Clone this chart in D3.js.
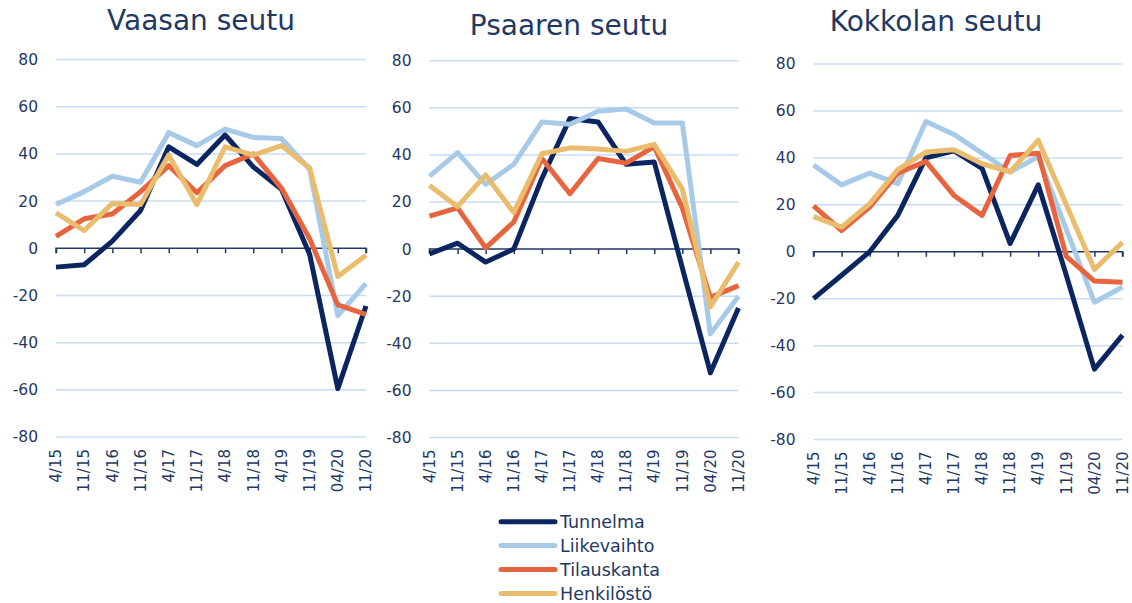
<!DOCTYPE html>
<html>
<head>
<meta charset="utf-8">
<script src="https://cdn.jsdelivr.net/npm/d3@7"></script>
<style>
 body{margin:0;background:#ffffff;}
 text{font-family:'DejaVu Sans',sans-serif;fill:#1F3864;}
</style>
</head>
<body>
<div id="chart"></div>
<script>
// categories on the x axis (half year survey rounds)
const categories = ['4/15','11/15','4/16','11/16','4/17','11/17','4/18','11/18','4/19','11/19','04/20','11/20'];
const seriesNames = ['Tunnelma','Liikevaihto','Tilauskanta','Henkilöstö'];
const regionNames = ['Vaasan seutu','Psaaren seutu','Kokkolan seutu'];
const yTicks = [-80,-60,-40,-20,0,20,40,60,80];

// Vaasan seutu
const vaasaTunnelma    = [-8, -7, 3, 16, 43, 35.5, 48, 34.5, 25, -2.5, -59.5, -24.5];
const vaasaLiikevaihto = [18.5, 24, 30.5, 28, 49, 43.5, 50.5, 47, 46.5, 33.5, -28.5, -15];
const vaasaTilauskanta = [5, 12.5, 14.5, 24, 35, 23.5, 35, 40, 25.5, 4, -24, -28];
const vaasaHenkilosto  = [15, 7.5, 19, 18.5, 39.5, 18.5, 43, 39.5, 43.5, 34, -12, -3];

// Psaaren seutu
const psaariTunnelma    = [-2, 2.5, -5.5, 0, 30, 55.5, 54, 36, 37, -8, -52.5, -25];
const psaariLiikevaihto = [31, 41, 27.5, 36, 54, 53, 58.5, 59.5, 53.5, 53.5, -36, -20];
const psaariTilauskanta = [14, 17.5, 0.5, 11.5, 38.5, 23.5, 38.5, 36.5, 43.5, 17.5, -20.5, -15.5];
const psaariHenkilosto  = [27, 18, 31.5, 15.5, 40.5, 43, 42.5, 41.5, 44.5, 25.5, -24.5, -5.5];

// Kokkolan seutu
const kokkolaTunnelma    = [-20, -10, 0, 15.5, 40, 43, 35.5, 3.5, 28.5, -10, -50, -35.5];
const kokkolaLiikevaihto = [37, 28.5, 33.5, 29, 55.5, 50, 42, 34, 40.5, 9.5, -21.5, -15];
const kokkolaTilauskanta = [19.5, 9, 19, 33.5, 38.5, 24, 15.5, 41, 42, -2, -12.5, -13];
const kokkolaHenkilosto  = [15, 10.5, 20.5, 35, 42.5, 43.5, 37.5, 34, 47.5, 20, -7.5, 4];

const regionData = [
  [vaasaTunnelma, vaasaLiikevaihto, vaasaTilauskanta, vaasaHenkilosto],
  [psaariTunnelma, psaariLiikevaihto, psaariTilauskanta, psaariHenkilosto],
  [kokkolaTunnelma, kokkolaLiikevaihto, kokkolaTilauskanta, kokkolaHenkilosto]
];

// line colours, same order as seriesNames
const lineColor = ['#0B2560','#A7CAE8','#E7653E','#E9BC6E'];

// panel placement (pixels) - each Excel chart sits a little differently
const panels = [
  {left:56,    right:366,    top:59.5, bottom:437,   titleX:201, titleY:30},
  {left:429.5, right:738.5,  top:60.7, bottom:437.5, titleX:569, titleY:35},
  {left:813.5, right:1122.5, top:64,   bottom:439.5, titleX:936, titleY:31}
];

const width = 1132, height = 603;

const svg = d3.select('#chart').append('svg')
    .attr('width', width)
    .attr('height', height);

panels.forEach((p, i) => {
  const g = svg.append('g').attr('class','panel');

  const xScale = d3.scalePoint()
      .domain(categories)
      .range([p.left, p.right]);

  const yScale = d3.scaleLinear()
      .domain([-80,80])
      .range([p.bottom, p.top]);

  // title
  g.append('text')
      .attr('x', p.titleX)
      .attr('y', p.titleY)
      .attr('text-anchor','middle')
      .style('font-size','28px')
      .text(regionNames[i]);

  // horizontal grid lines
  g.append('g')
      .selectAll('line')
      .data(yTicks.filter(d => d !== 0))
      .join('line')
      .attr('x1', p.left)
      .attr('x2', p.right)
      .attr('y1', d => yScale(d))
      .attr('y2', d => yScale(d))
      .attr('stroke','#C8DCF6')
      .attr('stroke-width',1.5);

  // y axis labels (plain hyphen for negatives, like Excel)
  const yAxis = d3.axisLeft(yScale)
      .tickValues(yTicks)
      .tickSize(0)
      .tickPadding(18)
      .tickFormat(d => String(d));
  const yG = g.append('g')
      .attr('transform', `translate(${p.left},0)`)
      .call(yAxis);
  yG.select('.domain').remove();
  yG.selectAll('text')
      .style('font-size','15.5px')
      .style('font-family',"'DejaVu Sans',sans-serif")
      .attr('fill','#1F3864');

  // zero axis with tick marks
  const xAxis = d3.axisBottom(xScale).tickSize(5).tickFormat('');
  const xG = g.append('g')
      .attr('transform', `translate(0,${yScale(0)})`)
      .call(xAxis);
  xG.select('.domain')
      .attr('d', `M${p.left},5V0H${p.right}V5`)
      .attr('stroke','#1F3864')
      .attr('stroke-width',1.5);
  xG.selectAll('.tick line')
      .attr('stroke','#1F3864')
      .attr('stroke-width',1.5);

  // rotated category labels below the plot
  g.append('g')
      .selectAll('text')
      .data(categories)
      .join('text')
      .attr('transform', d => `translate(${xScale(d)},${p.bottom + 12}) rotate(-90)`)
      .attr('text-anchor','end')
      .attr('dy','0.35em')
      .style('font-size','15px')
      .text(d => d);

  // the lines
  const line = d3.line()
      .x((d, j) => xScale(categories[j]))
      .y(d => yScale(d));

  g.append('g')
      .selectAll('path')
      .data(regionData[i])
      .join('path')
      .attr('fill','none')
      .attr('stroke', (d, k) => lineColor[k])
      .attr('stroke-width',5)
      .attr('stroke-linejoin','round')
      .attr('d', line);
});

// legend
const legend = svg.append('g')
    .attr('transform','translate(501,521.7)');

const legendItem = legend.selectAll('g')
    .data(seriesNames)
    .join('g')
    .attr('transform', (d, i) => `translate(0,${i * 23.9})`);

legendItem.append('line')
    .attr('x1',0)
    .attr('x2',54)
    .attr('stroke', (d, i) => lineColor[i])
    .attr('stroke-width',5)
    .attr('stroke-linecap','round');

legendItem.append('text')
    .attr('x',59)
    .attr('dy','0.36em')
    .style('font-size','17.5px')
    .text(d => d);
</script>
</body>
</html>
